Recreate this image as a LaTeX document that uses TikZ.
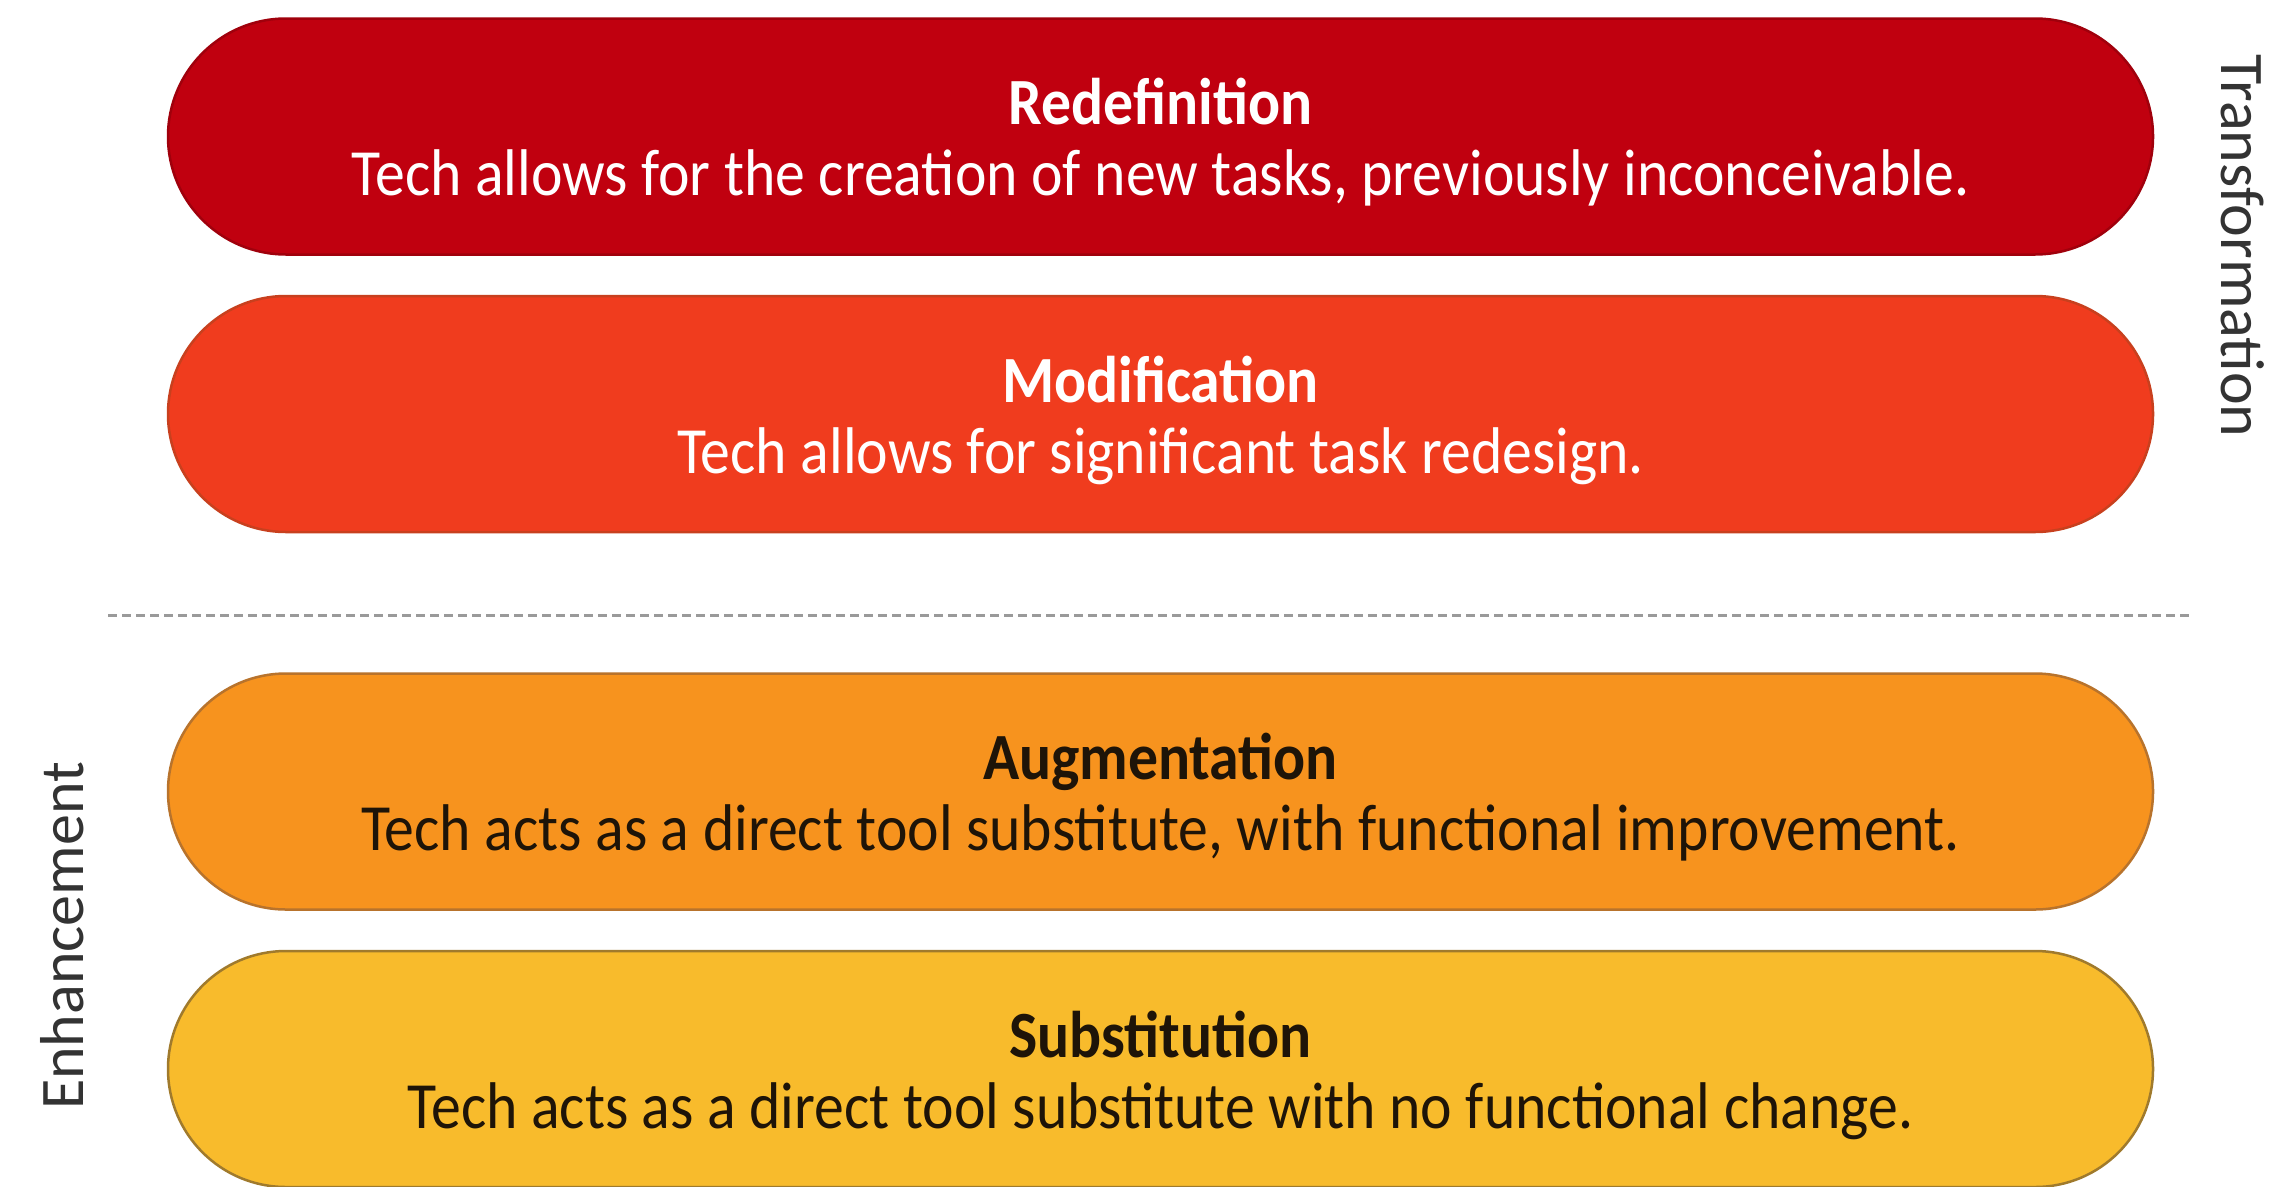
\documentclass[tikz,border=0pt]{standalone}
\usepackage{fontspec}
\setmainfont{Carlito}
% slightly condensed face for the text inside the bands
\newfontfamily\bandfont{Carlito}[FakeStretch=0.905]
\usetikzlibrary{shapes.misc}

\definecolor{redeffill}{HTML}{C0000F}
\definecolor{redefline}{HTML}{A0000C}
\definecolor{modfill}{HTML}{F03C1E}
\definecolor{modline}{HTML}{C8401E}
\definecolor{augfill}{HTML}{F7931E}
\definecolor{augline}{HTML}{B8732C}
\definecolor{subfill}{HTML}{F8BB2C}
\definecolor{subline}{HTML}{A07A2C}
\definecolor{darktext}{HTML}{1E1408}
\definecolor{sidetext}{HTML}{333333}
\definecolor{dashgray}{HTML}{9A9A9A}

\begin{document}
\begin{tikzpicture}[x=1pt,y=-1pt,
  pill/.style={rounded rectangle, minimum width=1985pt, minimum height=236pt,
    line width=2.5pt, inner sep=0pt},
  pilltext/.style={align=center, inner sep=0pt, yshift=-6pt,
    font=\bandfont\fontsize{66}{71}\selectfont},
  lighttext/.style={pilltext, text=white},
  darkfont/.style={pilltext, text=darktext},
  sidelabel/.style={text=sidetext, font=\fontsize{62}{70}\selectfont, inner sep=0pt},
  divider/.style={dashgray, line width=3pt, dash pattern=on 9pt off 5pt}]

% page area
\fill[white] (0,0) rectangle (2269,1186);
\useasboundingbox (0,0) rectangle (2269,1186);

% the four SAMR levels
\node[pill, fill=redeffill, draw=redefline] (redefinition) at (1160.5,136.5) {};
\node[lighttext] (redefinitiontext) at (redefinition.center)
  {\textbf{Redefinition}\\Tech allows for the creation of new tasks, previously inconceivable.};

\node[pill, fill=modfill, draw=modline] (modification) at (1160.5,414) {};
\node[lighttext] (modificationtext) at (modification.center)
  {\textbf{Modification}\\Tech allows for significant task redesign.};

\node[pill, fill=augfill, draw=augline] (augmentation) at (1160.5,791.5) {};
\node[darkfont] (augmentationtext) at (augmentation.center)
  {\textbf{Augmentation}\\Tech acts as a direct tool substitute, with functional improvement.};

\node[pill, fill=subfill, draw=subline] (substitution) at (1160.5,1069) {};
\node[darkfont] (substitutiontext) at (substitution.center)
  {\textbf{Substitution}\\Tech acts as a direct tool substitute with no functional change.};

% boundary between transformation and enhancement
\coordinate (divleft) at (108,615);
\coordinate (divright) at (2193,615);
\draw[divider] (divleft) -- (divright);

% group labels
\node[sidelabel, rotate=-90] (transformation) at (2243,246) {Transformation};
\node[sidelabel, rotate=90] (enhancement) at (62,936) {Enhancement};
\end{tikzpicture}
\end{document}
